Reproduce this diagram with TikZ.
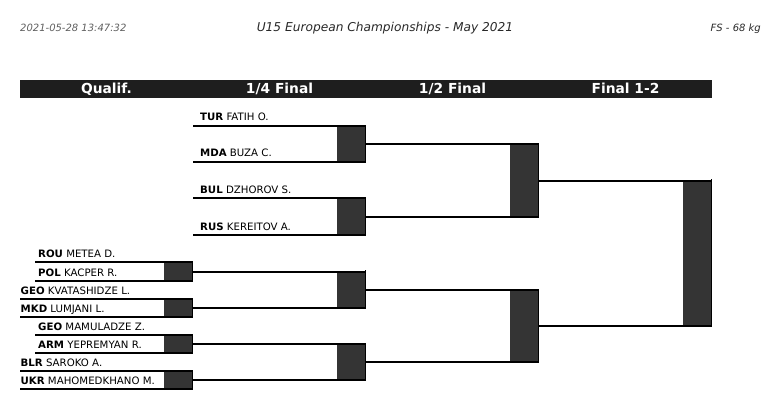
\documentclass[tikz,border=0pt]{standalone}
\usepackage{fontspec}
\setmainfont{DejaVu Sans}
\usepackage{xcolor}
\usepackage{tikz}
\usetikzlibrary{positioning}
\definecolor{barblack}{RGB}{30,30,30}
\definecolor{boxgrey}{RGB}{52,52,52}
\definecolor{stampgrey}{RGB}{95,95,95}
\definecolor{titlegrey}{RGB}{40,40,40}
\tikzset{
  headbar/.style={
    rectangle,
    fill=barblack,
    inner sep=0pt,
    minimum width=692pt,
    minimum height=18pt,
    anchor=north west
  },
  headlabel/.style={
    text=white,
    anchor=base,
    inner sep=0pt,
    font=\bfseries\fontsize{13.8}{15}\selectfont
  },
  stamp/.style={
    anchor=base,
    inner sep=0pt,
    font=\itshape\fontsize{10}{11}\selectfont
  },
  wrestler/.style={
    anchor=base west,
    inner sep=0pt,
    font=\fontsize{10.2}{12}\selectfont
  },
  boutbox/.style={
    rectangle,
    fill=boxgrey,
    inner sep=0pt,
    minimum width=28pt,
    minimum height=#1,
    anchor=north west
  },
  bracketline/.style={
    line width=1.8pt,
    draw=black
  },
  boxedge/.style={
    line width=1.8pt,
    line cap=rect,
    draw=black
  }
}

\begin{document}
\begin{tikzpicture}[x=1pt,y=-1pt]
\useasboundingbox (0,0) rectangle (776,409);

% page header
\node[stamp, anchor=base west, text=stampgrey] (date) at (20,32) {2021-05-28 13:47:32};
\node[stamp, text=titlegrey, font=\itshape\fontsize{12.2}{13}\selectfont] (event) at (385,32) {U15 European Championships - May 2021};
\node[stamp, anchor=base east, text=titlegrey] (weight) at (761,32) {FS - 68 kg};

% round titles
\node[headbar] (bar) at (20,80) {};
\node[headlabel] (qualif) at (106.5,94) {Qualif.};
\node[headlabel] (quarter) at (279.5,94) {1/4 Final};
\node[headlabel] (semi) at (452.5,94) {1/2 Final};
\node[headlabel] (final) at (625.5,94) {Final 1-2};

% bout boxes
\node[boutbox=19pt] (q1) at (164,262) {};
\node[boutbox=18pt] (q2) at (164,299) {};
\node[boutbox=18pt] (q3) at (164,335) {};
\node[boutbox=18pt] (q4) at (164,371) {};
\node[boutbox=36pt] (qf1) at (337,126) {};
\node[boutbox=37pt] (qf2) at (337,198) {};
\node[boutbox=37pt] (qf3) at (337,271) {};
\node[boutbox=36pt] (qf4) at (337,344) {};
\node[boutbox=73pt] (sf1) at (510,144) {};
\node[boutbox=72pt] (sf2) at (510,290) {};
\node[boutbox=146pt] (fin) at (683,180) {};

% entrants
\coordinate (tur) at (193,126);
\coordinate (mda) at (193,162);
\coordinate (bul) at (193,198);
\coordinate (rus) at (193,235);
\coordinate (rou) at (35,262);
\coordinate (pol) at (35,281);
\coordinate (geok) at (20,299);
\coordinate (mkd) at (20,317);
\coordinate (geom) at (35,335);
\coordinate (arm) at (35,353);
\coordinate (blr) at (20,371);
\coordinate (ukr) at (20,389);

\node[wrestler] (turname) at (200,121) {\textbf{TUR} FATIH O.};
\node[wrestler] (mdaname) at (200,157) {\textbf{MDA} BUZA C.};
\node[wrestler] (bulname) at (200,193) {\textbf{BUL} DZHOROV S.};
\node[wrestler] (rusname) at (200,230) {\textbf{RUS} KEREITOV A.};
\node[wrestler] (rouname) at (38,257) {\textbf{ROU} METEA D.};
\node[wrestler] (polname) at (38,276) {\textbf{POL} KACPER R.};
\node[wrestler] (geokname) at (20.5,294) {\textbf{GEO} KVATASHIDZE L.};
\node[wrestler] (mkdname) at (20.5,312) {\textbf{MKD} LUMJANI L.};
\node[wrestler] (geomname) at (38,330) {\textbf{GEO} MAMULADZE Z.};
\node[wrestler] (armname) at (38,348) {\textbf{ARM} YEPREMYAN R.};
\node[wrestler] (blrname) at (20.5,366) {\textbf{BLR} SAROKO A.};
\node[wrestler] (ukrname) at (20.5,384) {\textbf{UKR} MAHOMEDKHANO M.};

% entrant lines
\draw[bracketline] (tur) -- (tur -| qf1.east);
\draw[bracketline] (mda) -- (mda -| qf1.east);
\draw[bracketline] (bul) -- (bul -| qf2.east);
\draw[bracketline] (rus) -- (rus -| qf2.east);
\draw[bracketline] (rou) -- (rou -| q1.east);
\draw[bracketline] (pol) -- (pol -| q1.east);
\draw[bracketline] (geok) -- (geok -| q2.east);
\draw[bracketline] (mkd) -- (mkd -| q2.east);
\draw[bracketline] (geom) -- (geom -| q3.east);
\draw[bracketline] (arm) -- (arm -| q3.east);
\draw[bracketline] (blr) -- (blr -| q4.east);
\draw[bracketline] (ukr) -- (ukr -| q4.east);

% winners going on
\draw[bracketline] (q1.east) -- (q1.east -| qf3.east);
\draw[bracketline] (q2.east) -- (q2.east -| qf3.east);
\draw[bracketline] (q3.east) -- (q3.east -| qf4.east);
\draw[bracketline] (q4.east) -- (q4.east -| qf4.east);
\draw[bracketline] (qf1.east) -- (qf1.east -| sf1.east);
\draw[bracketline] (qf2.east) -- (qf2.east -| sf1.east);
\draw[bracketline] (qf3.east) -- (qf3.east -| sf2.east);
\draw[bracketline] (qf4.east) -- (qf4.east -| sf2.east);
\draw[bracketline] (sf1.east) -- (sf1.east -| fin.east);
\draw[bracketline] (sf2.east) -- (sf2.east -| fin.east);

% right edges of the boxes
\draw[boxedge] (q1.north east) -- (q1.south east);
\draw[boxedge] (q2.north east) -- (q2.south east);
\draw[boxedge] (q3.north east) -- (q3.south east);
\draw[boxedge] (q4.north east) -- (q4.south east);
\draw[boxedge] (qf1.north east) -- (qf1.south east);
\draw[boxedge] (qf2.north east) -- (qf2.south east);
\draw[boxedge] (qf3.north east) -- (qf3.south east);
\draw[boxedge] (qf4.north east) -- (qf4.south east);
\draw[boxedge] (sf1.north east) -- (sf1.south east);
\draw[boxedge] (sf2.north east) -- (sf2.south east);
\draw[boxedge] (fin.north east) -- (fin.south east);
\end{tikzpicture}
\end{document}
